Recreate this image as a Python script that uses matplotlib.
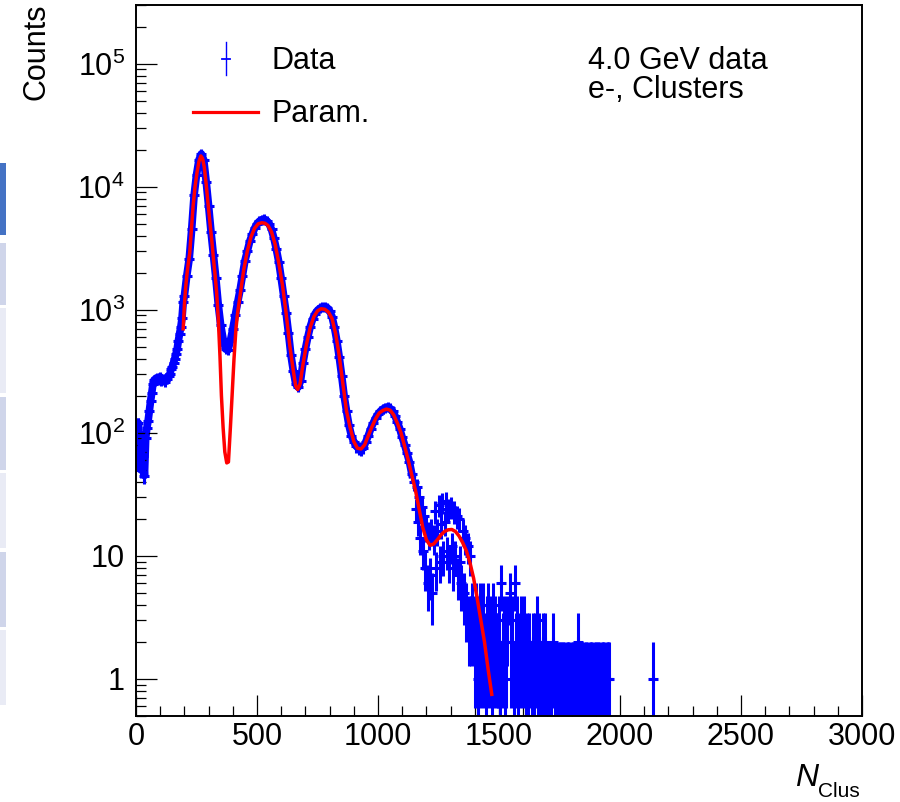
import numpy as np
import matplotlib
matplotlib.use("Agg")
import matplotlib.pyplot as plt
from matplotlib.lines import Line2D
from matplotlib.patches import Rectangle
from matplotlib.ticker import FixedLocator, MultipleLocator, LogLocator, NullFormatter

plt.rcParams["font.family"] = ["Liberation Sans", "DejaVu Sans"]
plt.rcParams["mathtext.fontset"] = "custom"
plt.rcParams["mathtext.rm"] = "Liberation Sans"
plt.rcParams["mathtext.it"] = "Liberation Sans:italic"

# --- data (N_Clus bin centre, counts) ---
# low region, 5-unit steps
low_x = list(range(0, 200, 5))
low_n = [95, 60, 120, 70, 50, 80, 65, 45, 90, 110,
         125, 150, 180, 210, 250, 270, 265, 280, 275, 270,
         285, 265, 275, 270, 260, 280, 275, 290, 300, 330,
         345, 370, 400, 440, 480, 560, 640, 720, 850, 1150]

# main peaks, 10-unit steps
main_x = list(range(200, 1150, 10))
main_n = [1300, 1900, 2600, 4500, 8500, 12500, 16500, 18500, 16500, 11000,
          7000, 4300, 2800, 1800, 1100, 750, 580, 480, 470, 560,
          700, 900, 1150, 1450, 1900, 2500, 3000, 3600, 4100, 4600,
          5000, 5250, 5400, 5450, 5300, 5000, 4500, 3800, 3100, 2450,
          1800, 1300, 950, 650, 430, 320, 250, 235, 265, 370,
          480, 600, 730, 840, 930, 990, 1030, 1050, 1060, 1040,
          980, 880, 720, 560, 410, 290, 200, 150, 115, 95,
          85, 78, 75, 74, 76, 85, 95, 108, 120, 132,
          142, 150, 156, 160, 162, 158, 150, 138, 122, 108,
          92, 80, 68, 58, 46]

# tail, 5-unit steps
tail_x = list(range(1150, 1965, 5))
tail_n = [40, 24, 36, 19, 30, 14, 25, 11, 21, 8,
          17, 6, 15, 7, 16, 5, 14, 23, 8, 16,
          26, 9, 18, 27, 10, 19, 28, 11, 24, 9,
          25, 12, 8, 23, 10, 21, 7, 20, 9, 6,
          16, 5, 14, 4, 12, 3, 10, 3,
          4, 3, 2, 4, 3, 1, 4, 2, 3, 4,
          2, 1, 3, 4, 2, 3, 1, 4, 2, 3, 2,
          2, 3, 1, 6, 2, 3, 1, 2, 3, 0,
          5, 2, 3, 1, 6, 2, 3, 1, 2, 3,
          0, 2, 3, 1,
          2, 1, 2, 0, 1, 2, 1, 2, 3, 1,
          2, 0, 1, 2, 1, 2, 1,
          1, 0, 1, 1, 0, 2, 1, 1, 0, 1,
          1, 1, 0, 1, 1, 0, 1, 1, 1, 0,
          1, 1, 0, 1, 1, 2, 1, 0, 1, 1,
          1, 0, 1, 1, 0, 1, 1, 1, 0, 1,
          1, 0, 1, 1, 0, 1, 1, 1, 0, 1,
          1, 1, 0]

lone_x = [2135]
lone_n = [1]

# parametrisation curve
param_x = [195, 200, 205, 210, 215, 222, 230, 236, 244, 252,
           260, 268, 275, 282, 290, 298, 306, 313, 320, 327,
           333, 340, 347, 353, 360, 367, 375, 382, 390, 397,
           405, 413, 420, 430, 445, 460, 475, 490, 505, 520,
           533, 545, 560, 575, 590, 605, 620, 635, 650, 660,
           668, 678, 690, 705, 720, 735, 750, 765, 780, 795,
           810, 825, 840, 855, 870, 885, 900, 915, 930, 945,
           960, 975, 990, 1005, 1020, 1035, 1050, 1065, 1080, 1095,
           1110, 1125, 1140, 1155, 1170, 1185, 1200, 1215, 1230, 1245,
           1260, 1275, 1290, 1305, 1320, 1335, 1350, 1365, 1380, 1395,
           1410, 1425, 1440, 1455, 1470]
param_y = [700, 1100, 1500, 1900, 2300, 2900, 4800, 7000, 10000, 13000,
           16000, 17800, 17000, 14500, 10500, 7200, 5000, 3700, 2600, 1900,
           1400, 850, 420, 200, 110, 70, 57, 58, 110, 200,
           400, 700, 950, 1300, 2100, 3000, 3900, 4600, 5000, 5100,
           5050, 4850, 4300, 3400, 2400, 1600, 950, 520, 320, 240,
           225, 250, 360, 530, 720, 880, 980, 1020, 1010, 960,
           850, 640, 420, 250, 150, 110, 85, 75, 74, 80,
           95, 112, 130, 145, 152, 156, 153, 140, 120, 100,
           78, 60, 45, 34, 24, 17, 13.5, 12.2, 12.5, 13.5,
           14.8, 15.8, 16.3, 16.4, 15.8, 14.5, 12.8, 11, 8.8, 6.6,
           4.5, 3, 2, 1.2, 0.75]

W, H = 900, 802
fig = plt.figure(figsize=(W / 100, H / 100), dpi=100)
ax = fig.add_axes([136 / W, 86 / H, 726 / W, 711 / H])

x = np.array(low_x + main_x + tail_x + lone_x, dtype=float)
n = np.array(low_n + main_n + tail_n + lone_n, dtype=float)
keep = n > 0
x, n = x[keep], n[keep]
err = np.sqrt(n)
lo = n - np.maximum(n - err, 1e-3)

# the fine binning makes the densely packed markers look like a solid band
ax.plot(low_x + main_x, low_n + main_n, color="#0000ff", lw=5.5,
        solid_joinstyle="round", zorder=1)
ax.errorbar(x, n, yerr=[lo, err], fmt="+", color="#0000ff", ms=7.5, mew=2.2,
            elinewidth=2.2, capsize=0, zorder=2)
ax.plot(param_x, param_y, color="#ff0000", lw=2.5, zorder=3)

ax.set_xlim(0, 3000)
ax.set_yscale("log")
ax.set_ylim(0.5, 3e5)

ax.xaxis.set_major_locator(MultipleLocator(500))
ax.xaxis.set_minor_locator(MultipleLocator(100))
ax.yaxis.set_major_locator(FixedLocator([1, 10, 100, 1e3, 1e4, 1e5]))
ax.set_yticklabels(["1", "10", "$10^{2}$", "$10^{3}$", "$10^{4}$", "$10^{5}$"])
ax.yaxis.set_minor_locator(LogLocator(base=10, subs=np.arange(2, 10), numticks=20))
ax.yaxis.set_minor_formatter(NullFormatter())
ax.tick_params(which="both", direction="in", top=False, right=False, width=0.9,
               labelsize=22)
ax.tick_params(which="major", length=15)
ax.tick_params(which="minor", length=7.5)
ax.tick_params(axis="y", pad=8)
ax.tick_params(axis="x", pad=4)
for s in ax.spines.values():
    s.set_linewidth(1.4)

# axis titles
fig.text(37 / W, 1 - 4 / H, "Counts", rotation=90, ha="center", va="top", fontsize=22)
fig.text(860 / W, 1 - 797 / H, "Clus", ha="right", va="baseline", fontsize=15)
fig.text(818 / W, 1 - 786 / H, "N", ha="right", va="baseline", fontsize=23, style="italic")

# legend
fig.add_artist(Line2D([225.7 / W] * 2, [1 - 42 / H, 1 - 75 / H], color="#0000ff", lw=1.0))
fig.add_artist(Line2D([222 / W, 230 / W], [1 - 59 / H] * 2, color="#0000ff", lw=1.3))
fig.text(271 / W, 1 - 69 / H, "Data", ha="left", va="baseline", fontsize=22)
fig.add_artist(Line2D([193 / W, 258 / W], [1 - 112 / H] * 2, color="#ff0000", lw=2.3))
fig.text(271 / W, 1 - 122 / H, "Param.", ha="left", va="baseline", fontsize=22)

fig.text(588 / W, 1 - 69 / H, "4.0 GeV data", ha="left", va="baseline", fontsize=22)
fig.text(588 / W, 1 - 98 / H, "e-, Clusters", ha="left", va="baseline", fontsize=22)

# strip of the neighbouring window at the left edge
strip = [(163, 235, "#4472c4"), (243, 305, "#cfd5ea"), (308, 393, "#e9ebf5"),
         (397, 470, "#cfd5ea"), (473, 548, "#e9ebf5"), (552, 627, "#cfd5ea"),
         (630, 705, "#e9ebf5")]
for y0, y1, c in strip:
    fig.add_artist(Rectangle((0, 1 - y1 / H), 6 / W, (y1 - y0) / H, color=c, lw=0))

fig.savefig("out.png", dpi=100)
